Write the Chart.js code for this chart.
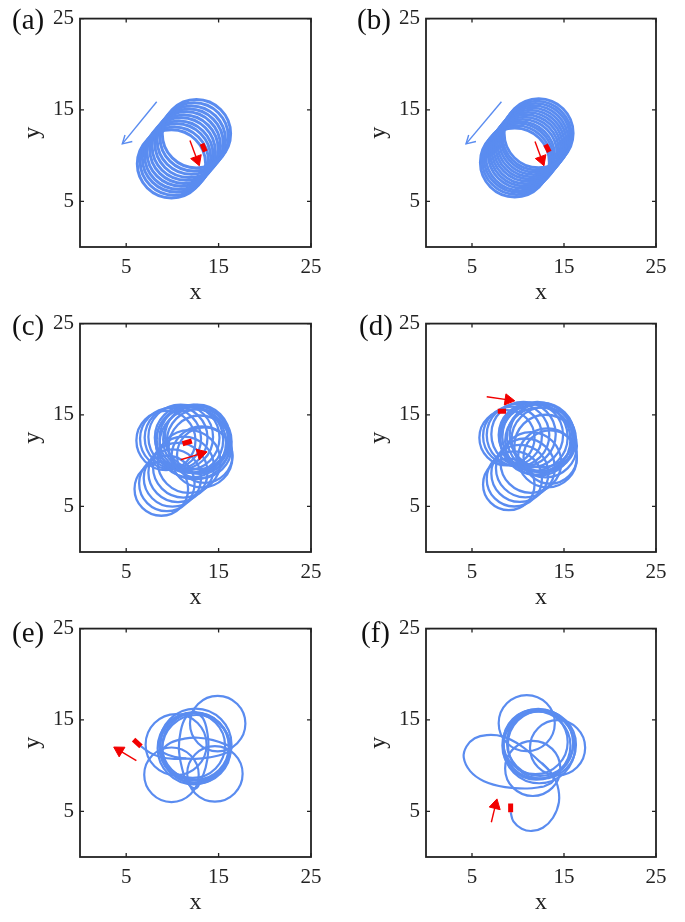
<!DOCTYPE html>
<html>
<head>
<title>Trajectories</title>
<script src="https://cdn.jsdelivr.net/npm/chart.js"></script>
<style>
  body { margin: 0; background: #fff; }
  canvas { position: absolute; }
  .tag { position: absolute; font-family: "Liberation Serif", serif; font-size: 29px; line-height: 1; color: #111; }
</style>
</head>
<body>
<canvas id="pa" width="340" height="305" style="left:0;top:0"></canvas>
<canvas id="pb" width="345" height="305" style="left:340px;top:0"></canvas>
<canvas id="pc" width="340" height="305" style="left:0;top:305px"></canvas>
<canvas id="pd" width="345" height="305" style="left:340px;top:305px"></canvas>
<canvas id="pe" width="340" height="305" style="left:0;top:610px"></canvas>
<canvas id="pf" width="345" height="305" style="left:340px;top:610px"></canvas>
<div class="tag" style="left:12px;top:5px">(a)</div>
<div class="tag" style="left:357px;top:5px">(b)</div>
<div class="tag" style="left:12px;top:311px">(c)</div>
<div class="tag" style="left:359px;top:311px">(d)</div>
<div class="tag" style="left:12px;top:618px">(e)</div>
<div class="tag" style="left:361px;top:618px">(f)</div>
<script>
// tick labels on both axes
const tickValues = [5, 15, 25];

// (a) rings of the trajectory: centre x, centre y, radius (data units)
const ringXa = [9.9, 10.2, 10.45, 10.7, 10.95, 11.25, 11.5, 11.8, 12.05, 12.35, 12.6];
const ringYa = [9.1, 9.4, 9.75, 10.05, 10.4, 10.7, 11.05, 11.35, 11.7, 12.05, 12.4];
const ringRa = [3.7, 3.7, 3.7, 3.7, 3.7, 3.7, 3.7, 3.7, 3.7, 3.7, 3.7];
const blueArrowXa = [8.3, 4.58];
const blueArrowYa = [15.9, 11.29];
const blueHeadXa = [4.87, 4.58, 5.66];
const blueHeadYa = [12.26, 11.29, 11.55];
const redArrowXa = [11.9, 12.67];
const redArrowYa = [11.65, 9.56];
const redMarkXa = [13.2, 13.55];
const redMarkYa = [11.3, 10.45];

// (b)
const ringXb = [9.65, 9.85, 10.05, 10.25, 10.5, 10.7, 10.9, 11.1, 11.3, 11.5, 11.7, 11.9, 12.05, 12.25];
const ringYb = [9.25, 9.5, 9.75, 9.95, 10.2, 10.45, 10.7, 10.95, 11.2, 11.45, 11.7, 11.95, 12.2, 12.45];
const ringRb = [3.75, 3.75, 3.75, 3.75, 3.75, 3.75, 3.75, 3.75, 3.75, 3.75, 3.75, 3.75, 3.75, 3.75];
const blueArrowXb = [8.2, 4.35];
const blueArrowYb = [15.9, 11.29];
const blueHeadXb = [4.64, 4.35, 5.43];
const blueHeadYb = [12.26, 11.29, 11.55];
const redArrowXb = [11.85, 12.58];
const redArrowYb = [11.55, 9.56];
const redMarkXb = [13.0, 13.4];
const redMarkYb = [11.2, 10.4];

// (c)
const ringXc = [8.8, 9.4, 10.0, 10.6, 11.2, 11.8, 9.3, 9.8, 10.4, 10.9, 11.6, 11.9, 12.0, 12.3, 12.6, 12.7, 12.9, 12.4, 13.0, 13.2, 13.5];
const ringYc = [6.9, 7.5, 8.1, 8.7, 9.3, 9.9, 12.2, 12.4, 12.5, 12.6, 12.5, 12.3, 12.0, 12.4, 12.3, 12.6, 12.1, 11.8, 11.5, 10.4, 10.6];
const ringRc = [2.9, 3.0, 3.1, 3.2, 3.3, 3.4, 3.2, 3.3, 3.4, 3.5, 3.5, 3.6, 3.8, 3.7, 3.6, 3.5, 3.5, 3.8, 3.4, 3.3, 3.0];
const redArrowXc = [10.9, 13.08];
const redArrowYc = [10.1, 10.76];
const redMarkXc = [11.1, 12.1];
const redMarkYc = [11.85, 12.15];

// (d)
const ringXd = [9.0, 9.6, 10.2, 10.8, 11.4, 8.8, 9.4, 10.0, 10.6, 11.4, 11.7, 11.9, 12.1, 12.5, 12.6, 12.8, 12.3, 13.0, 13.2, 13.5];
const ringYd = [7.4, 8.0, 8.6, 9.2, 9.8, 12.5, 12.7, 12.8, 12.9, 12.8, 12.6, 12.3, 12.6, 12.5, 12.8, 12.3, 12.1, 11.6, 10.3, 10.4];
const ringRd = [2.8, 3.0, 3.1, 3.2, 3.3, 3.0, 3.2, 3.4, 3.5, 3.5, 3.7, 3.8, 3.8, 3.7, 3.5, 3.5, 3.7, 3.4, 3.2, 2.9];
const redArrowXd = [6.6, 8.95];
const redArrowYd = [17.0, 16.65];
const redMarkXd = [7.8, 8.7];
const redMarkYd = [15.4, 15.4];

// (e)
const ringXe = [12.4, 12.5, 12.3, 12.6, 12.2, 12.5, 14.9, 14.6, 9.9, 10.4];
const ringYe = [12.0, 12.1, 11.9, 11.8, 12.2, 12.3, 14.6, 9.1, 9.0, 12.3];
const ringRe = [3.8, 3.6, 3.9, 3.7, 3.5, 3.9, 3.0, 3.0, 2.95, 3.3];
const flatLoopXe = [8.7, 9.8, 11.3, 12.8, 14.4, 15.8, 16.4, 15.6, 14.0, 12.5, 10.8, 9.5, 8.7];
const flatLoopYe = [11.6, 12.5, 12.95, 13.05, 12.8, 12.3, 11.9, 11.3, 10.9, 10.75, 10.85, 11.2, 11.6];
const tallLoopXe = [12.3, 13.3, 13.8, 13.9, 13.6, 13.0, 12.5, 11.6, 11.0, 10.7, 10.9, 11.4, 12.3];
const tallLoopYe = [16.0, 15.2, 13.5, 11.8, 9.8, 8.2, 7.5, 8.2, 9.9, 11.9, 13.8, 15.2, 16.0];
const tailXe = [6.6, 7.6, 8.7, 10.2, 11.5];
const tailYe = [12.1, 11.4, 10.95, 10.75, 10.8];
const redArrowXe = [6.1, 4.25];
const redArrowYe = [10.55, 11.67];
const redMarkXe = [5.8, 6.6];
const redMarkYe = [12.85, 12.1];

// (f)
const ringXf = [12.2, 12.0, 12.4, 12.3, 11.9, 12.6, 10.95, 14.3, 11.6];
const ringYf = [12.4, 12.2, 12.5, 12.0, 12.6, 12.3, 14.65, 11.95, 9.7];
const ringRf = [3.8, 3.7, 3.6, 3.9, 3.5, 3.7, 3.05, 3.0, 3.0];
const wideLoopXf = [12.8, 11.0, 8.6, 6.3, 4.8, 4.1, 4.4, 5.3, 6.6, 8.3, 10.3, 12.3, 13.6, 13.8, 12.8];
const wideLoopYf = [7.7, 7.5, 7.65, 8.3, 9.4, 10.9, 12.1, 13.0, 13.35, 13.2, 12.2, 10.5, 9.2, 8.3, 7.7];
const tailXf = [9.2, 9.5, 10.4, 11.5, 12.7, 13.8, 14.45, 14.3, 13.6, 12.6];
const tailYf = [4.9, 3.9, 3.1, 2.85, 3.2, 4.3, 6.0, 7.8, 9.2, 10.3];
const redArrowXf = [7.1, 7.55];
const redArrowYf = [3.8, 5.67];
const redMarkXf = [9.2, 9.2];
const redMarkYf = [5.85, 4.9];

const blue = '#5a8cf0';
const red = '#f20000';
const ink = '#222';
const serif = '"Liberation Serif", "Times New Roman", serif';

function pts(xs, ys) {
  return xs.map((x, i) => ({ x: x, y: ys[i] }));
}

// each ring is one point whose radius is converted from data units by the x scale
function rings(xs, ys, rs, width) {
  return {
    data: xs.map((x, i) => ({ x: x, y: ys[i], r: rs[i] })),
    showLine: false,
    pointStyle: 'circle',
    pointRadius: ctx => {
      if (!ctx.raw) return 0;
      const s = ctx.chart.scales.x;
      return Math.abs(s.getPixelForValue(ctx.raw.r) - s.getPixelForValue(0));
    },
    pointBorderColor: blue,
    pointBackgroundColor: 'rgba(0,0,0,0)',
    pointBorderWidth: width
  };
}

function curve(xs, ys, color, width, tension) {
  return {
    data: pts(xs, ys),
    showLine: true,
    tension: tension,
    borderColor: color,
    borderWidth: width,
    pointRadius: 0,
    fill: false
  };
}

function arrow(xs, ys, color) {
  return {
    data: pts(xs, ys),
    showLine: true,
    borderColor: color,
    borderWidth: 1.4,
    pointStyle: 'triangle',
    pointRadius: [0, 6.5],
    pointBackgroundColor: color,
    pointBorderColor: color,
    pointBorderWidth: 1,
    pointRotation: ctx => {
      const d = ctx.dataset.data;
      const sx = ctx.chart.scales.x, sy = ctx.chart.scales.y;
      const dx = sx.getPixelForValue(d[1].x) - sx.getPixelForValue(d[0].x);
      const dy = sy.getPixelForValue(d[1].y) - sy.getPixelForValue(d[0].y);
      return Math.atan2(dx, -dy) * 180 / Math.PI;
    }
  };
}

// box with inward tick marks on all four sides
const framePlugin = {
  id: 'frame',
  afterDatasetsDraw(chart) {
    const { ctx, chartArea: a, scales } = chart;
    ctx.save();
    ctx.strokeStyle = ink;
    ctx.lineWidth = 1.8;
    ctx.strokeRect(a.left, a.top, a.right - a.left, a.bottom - a.top);
    ctx.lineWidth = 1.3;
    ctx.beginPath();
    tickValues.forEach(v => {
      const px = scales.x.getPixelForValue(v);
      ctx.moveTo(px, a.bottom); ctx.lineTo(px, a.bottom - 4);
      ctx.moveTo(px, a.top); ctx.lineTo(px, a.top + 4);
      const py = scales.y.getPixelForValue(v);
      ctx.moveTo(a.left, py); ctx.lineTo(a.left + 4, py);
      ctx.moveTo(a.right, py); ctx.lineTo(a.right - 4, py);
    });
    ctx.stroke();
    ctx.restore();
  }
};

function panel(id, yWidth, datasets) {
  const axisBase = {
    type: 'linear',
    min: 0,
    max: 25,
    afterBuildTicks: s => { s.ticks = tickValues.map(v => ({ value: v })); },
    grid: { display: false, drawTicks: false },
    border: { display: false }
  };
  new Chart(document.getElementById(id), {
    type: 'scatter',
    data: { datasets: datasets },
    options: {
      responsive: false,
      animation: false,
      events: [],
      layout: { padding: { top: 15, right: 29, left: 0, bottom: 0 } },
      plugins: { legend: { display: false }, tooltip: { enabled: false } },
      scales: {
        x: Object.assign({}, axisBase, {
          afterFit: s => { s.height = 58; },
          ticks: { autoSkip: false, maxRotation: 0, padding: 8, color: ink, font: { family: serif, size: 21 } },
          title: { display: true, text: 'x', color: ink, font: { family: serif, size: 24, lineHeight: 1 }, padding: { top: 0, bottom: 0 } }
        }),
        y: Object.assign({}, axisBase, {
          afterFit: s => { s.width = yWidth; },
          ticks: { autoSkip: false, padding: 6, color: ink, font: { family: serif, size: 21 } },
          title: { display: true, text: 'y', color: ink, font: { family: serif, size: 24, lineHeight: 1 }, padding: { top: yWidth - 59, bottom: 0 } }
        })
      }
    },
    plugins: [framePlugin]
  });
}

// red marks first so they sit on top of the blue trajectory
panel('pa', 80, [
  curve(redMarkXa, redMarkYa, red, 5, 0),
  arrow(redArrowXa, redArrowYa, red),
  curve(blueArrowXa, blueArrowYa, blue, 1.4, 0),
  curve(blueHeadXa, blueHeadYa, blue, 1.4, 0),
  rings(ringXa, ringYa, ringRa, 3)
]);
panel('pb', 86, [
  curve(redMarkXb, redMarkYb, red, 5, 0),
  arrow(redArrowXb, redArrowYb, red),
  curve(blueArrowXb, blueArrowYb, blue, 1.4, 0),
  curve(blueHeadXb, blueHeadYb, blue, 1.4, 0),
  rings(ringXb, ringYb, ringRb, 2.8)
]);
panel('pc', 80, [
  curve(redMarkXc, redMarkYc, red, 5, 0),
  arrow(redArrowXc, redArrowYc, red),
  rings(ringXc, ringYc, ringRc, 2.3)
]);
panel('pd', 86, [
  curve(redMarkXd, redMarkYd, red, 5, 0),
  arrow(redArrowXd, redArrowYd, red),
  rings(ringXd, ringYd, ringRd, 2.3)
]);
panel('pe', 80, [
  curve(redMarkXe, redMarkYe, red, 5, 0),
  arrow(redArrowXe, redArrowYe, red),
  curve(tailXe, tailYe, blue, 2.2, 0.4),
  curve(flatLoopXe, flatLoopYe, blue, 2.2, 0.4),
  curve(tallLoopXe, tallLoopYe, blue, 2.2, 0.4),
  rings(ringXe, ringYe, ringRe, 2.2)
]);
panel('pf', 86, [
  curve(redMarkXf, redMarkYf, red, 5, 0),
  arrow(redArrowXf, redArrowYf, red),
  curve(tailXf, tailYf, blue, 2.2, 0.4),
  curve(wideLoopXf, wideLoopYf, blue, 2.2, 0.4),
  rings(ringXf, ringYf, ringRf, 2.2)
]);
</script>
</body>
</html>
